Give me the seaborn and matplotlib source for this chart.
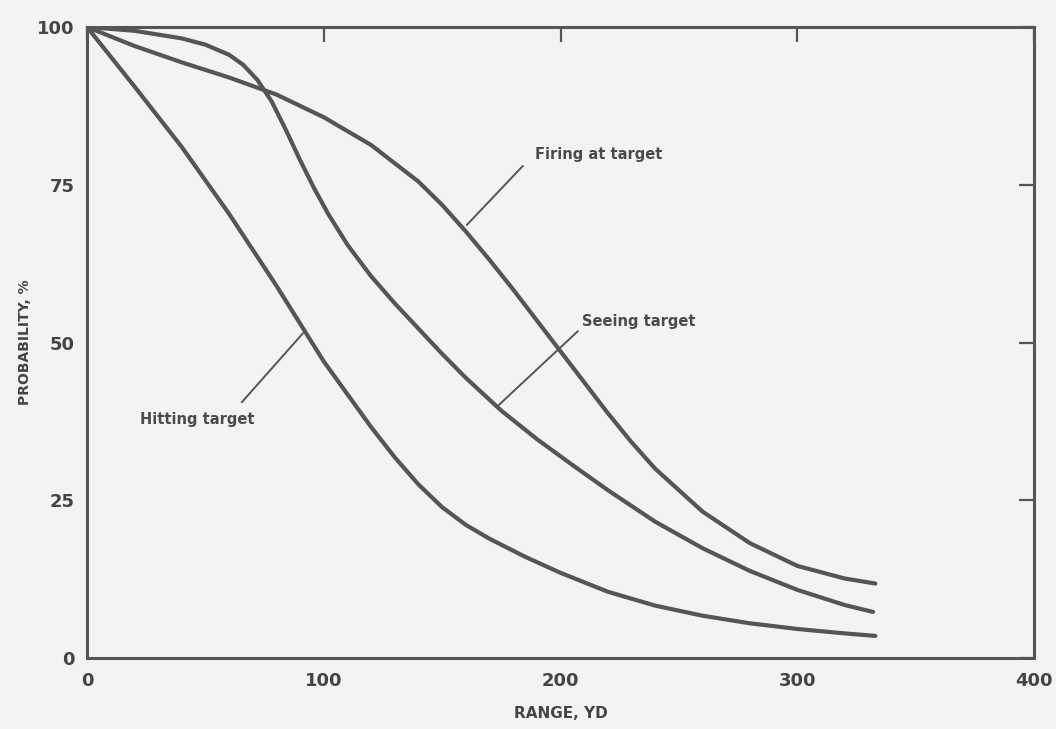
import matplotlib
matplotlib.use("Agg")
import matplotlib.pyplot as plt
import seaborn as sns
import pandas as pd

# ---- data ----
firing_x = [0, 20, 40, 60, 80, 100, 120, 140, 150, 160, 170, 180, 190, 200, 210, 220, 230, 240, 260, 280, 300, 320, 333]
firing_y = [100, 97.0, 94.4, 92.0, 89.3, 85.7, 81.3, 75.5, 71.8, 67.6, 63.1, 58.4, 53.5, 48.6, 43.7, 38.8, 34.2, 30.0, 23.2, 18.2, 14.6, 12.6, 11.8]

seeing_x = [0, 20, 40, 50, 60, 66, 72, 78, 84, 90, 96, 102, 110, 120, 130, 140, 150, 160, 175, 190, 205, 220, 240, 260, 280, 300, 320, 332]
seeing_y = [100, 99.4, 98.2, 97.2, 95.6, 94.0, 91.6, 88.2, 83.7, 78.9, 74.4, 70.3, 65.5, 60.5, 56.2, 52.2, 48.2, 44.4, 39.2, 34.7, 30.6, 26.6, 21.6, 17.4, 13.8, 10.8, 8.4, 7.3]

hitting_x = [0, 20, 40, 60, 80, 100, 120, 130, 140, 150, 160, 170, 185, 200, 220, 240, 260, 280, 300, 320, 333]
hitting_y = [100, 90.6, 81.0, 70.4, 59.0, 47.0, 36.6, 31.8, 27.5, 23.9, 21.1, 18.9, 16.05, 13.5, 10.5, 8.3, 6.7, 5.5, 4.6, 3.9, 3.5]

series_names = ["Firing at target", "Seeing target", "Hitting target"]
x_ticks = [0, 100, 200, 300, 400]
y_ticks = [0, 25, 50, 75, 100]
x_label = "RANGE, YD"
y_label = "PROBABILITY, %"

frames = []
for name, xs, ys in zip(series_names, [firing_x, seeing_x, hitting_x], [firing_y, seeing_y, hitting_y]):
    frames.append(pd.DataFrame({"range": xs, "prob": ys, "curve": name}))
df = pd.concat(frames, ignore_index=True)

# ---- style ----
sns.set_style("white")
plt.rcParams["font.family"] = ["DejaVu Sans"]
ink = "#555555"
bg = "#f3f3f1"

fig = plt.figure(figsize=(10.56, 7.29), dpi=100, facecolor=bg)
ax = fig.add_axes([87 / 1056, 1 - 658 / 729, (1034 - 87) / 1056, (658 - 27) / 729])
ax.set_facecolor(bg)

sns.lineplot(data=df, x="range", y="prob", hue="curve", units="curve", estimator=None,
             palette={n: ink for n in series_names}, linewidth=3.0, legend=False,
             ax=ax)
for ln in ax.lines:
    ln.set_solid_joinstyle("round")
    ln.set_solid_capstyle("round")

ax.set_xlim(0, 400)
ax.set_ylim(0, 100)
ax.set_xticks(x_ticks)
ax.set_yticks(y_ticks)
ax.set_xticklabels([str(v) for v in x_ticks])
ax.set_yticklabels([str(v) for v in y_ticks])

for s in ax.spines.values():
    s.set_visible(True)
    s.set_color(ink)
    s.set_linewidth(2.2)

ax.tick_params(axis="both", direction="in", length=11, width=1.6, color=ink,
               labelsize=13, labelcolor="#444444", top=True, right=True,
               labeltop=False, labelright=False)
ax.tick_params(axis="x", pad=10)
ax.tick_params(axis="y", pad=9)
for lab in ax.get_xticklabels() + ax.get_yticklabels():
    lab.set_fontweight("bold")

ax.set_xlabel(x_label, fontsize=11, fontweight="bold", color="#444444")
ax.set_ylabel(y_label, fontsize=10, fontweight="bold", color="#444444")
ax.xaxis.set_label_coords(0.5, -(713 - 658) / 631)
ax.yaxis.set_label_coords(-(87 - 25) / 947, 0.5)
ax.xaxis.label.set_va("center")
ax.yaxis.label.set_va("center")

# ---- annotations with leader lines ----
ann_kw = dict(fontsize=10.5, fontweight="bold", color="#4a4a4a")
ax.annotate("", xy=(159.6, 68.3), xytext=(184.9, 78.3),
            arrowprops=dict(arrowstyle="-", color=ink, lw=1.4))
ax.text(189.2, 79.8, series_names[0], ha="left", va="center", **ann_kw)

ax.annotate("", xy=(173.1, 39.8), xytext=(208.2, 52.1),
            arrowprops=dict(arrowstyle="-", color=ink, lw=1.4))
ax.text(209.0, 53.3, series_names[1], ha="left", va="center", **ann_kw)

ax.annotate("", xy=(92.0, 51.8), xytext=(64.6, 40.2),
            arrowprops=dict(arrowstyle="-", color=ink, lw=1.4))
ax.text(22.4, 37.8, series_names[2], ha="left", va="center", **ann_kw)

fig.savefig("out.png", dpi=100, facecolor=bg)
